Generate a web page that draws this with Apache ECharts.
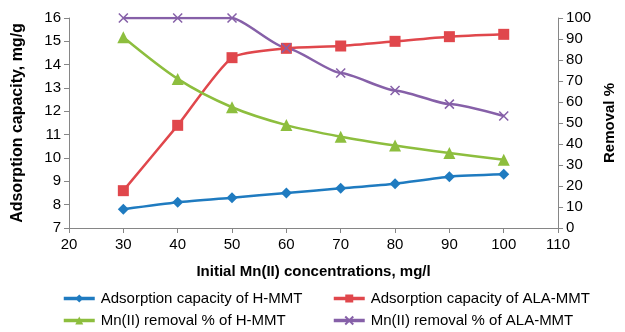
<!DOCTYPE html>
<html><head><meta charset="utf-8">
<script src="https://cdn.jsdelivr.net/npm/echarts@6/dist/echarts.min.js"></script>
<style>html,body{margin:0;padding:0;background:#fff}#c{width:625px;height:332px}</style>
</head><body><div id="c"></div>
<script>
const concentrations = [30, 40, 50, 60, 70, 80, 90, 100];
const capacityHMMT = [7.8, 8.1, 8.3, 8.5, 8.7, 8.9, 9.2, 9.3];
const capacityALAMMT = [8.6, 11.4, 14.3, 14.7, 14.8, 15.0, 15.2, 15.3];
const removalHMMT = [90.8, 71.0, 57.5, 49.0, 43.5, 39.3, 35.7, 32.5];
const removalALAMMT = [100, 100, 100, 85.7, 73.8, 65.5, 59.0, 53.3];
const seriesNames = ['Adsorption capacity of H-MMT', 'Adsorption capacity of ALA-MMT', 'Mn(II) removal % of H-MMT', 'Mn(II) removal % of ALA-MMT'];
const xTitle = 'Initial Mn(II) concentrations, mg/l';
const yLeftTitle = 'Adsorption capacity, mg/g';
const yRightTitle = 'Removal %';

const pairs = arr => concentrations.map((x, i) => [x, arr[i]]);
const font = 'Liberation Sans, Arial, sans-serif';
const axisCommon = {
  axisLine: {show: true, lineStyle: {color: '#868686', width: 1}},
  axisTick: {show: true, length: 5, lineStyle: {color: '#868686'}},
  splitLine: {show: false},
  axisLabel: {color: '#000', fontSize: 15, fontFamily: font}
};
const colors = ['#1F7BC0', '#E0474C', '#8DBE3E', '#8660A8'];
const crossPath = 'path://M0,0L10,10M10,0L0,10';

const legendPos = [[62, 291], [332, 291], [62, 313], [332, 313]];
const legends = seriesNames.map((n, i) => ({
  data: [n], left: legendPos[i][0], top: legendPos[i][1], padding: 0,
  itemWidth: 31, itemHeight: 10, itemGap: 6,
  lineStyle: {width: 3.5},
  textStyle: {fontSize: 15, fontFamily: font, color: '#000', padding: [0, 0, 0, 1]}
}));

const chart = echarts.init(document.getElementById('c'), null, {renderer: 'canvas'});
chart.setOption({
  animation: false,
  grid: {left: 69, right: 62, top: 18, bottom: 104},
  legend: legends,
  xAxis: Object.assign({
    type: 'value', min: 20, max: 110, interval: 10,
    name: xTitle, nameLocation: 'middle', nameGap: 36,
    nameTextStyle: {fontSize: 15, fontWeight: 'bold', fontFamily: font, color: '#000'}
  }, axisCommon, {axisLabel: {color: '#000', fontSize: 15, fontFamily: font, margin: 9}}),
  yAxis: [
    Object.assign({
      type: 'value', min: 7, max: 16, interval: 1, position: 'left',
      name: yLeftTitle, nameLocation: 'middle', nameGap: 43, nameRotate: 90,
      nameTextStyle: {fontSize: 16, fontWeight: 'bold', fontFamily: font, color: '#000'}
    }, axisCommon),
    Object.assign({
      type: 'value', min: 0, max: 100, interval: 10, position: 'right',
      name: yRightTitle, nameLocation: 'middle', nameGap: 38, nameRotate: 90,
      nameTextStyle: {fontSize: 15, fontWeight: 'bold', fontFamily: font, color: '#000'}
    }, axisCommon)
  ],
  series: [
    {name: seriesNames[0], type: 'line', yAxisIndex: 0, data: pairs(capacityHMMT),
      color: colors[0], symbol: 'diamond', symbolSize: 11, smooth: 0.2,
      lineStyle: {width: 2.5}},
    {name: seriesNames[1], type: 'line', yAxisIndex: 0, data: pairs(capacityALAMMT),
      color: colors[1], symbol: 'rect', symbolSize: 11, smooth: 0.2,
      lineStyle: {width: 2.5}},
    {name: seriesNames[2], type: 'line', yAxisIndex: 1, data: pairs(removalHMMT),
      color: colors[2], symbol: 'triangle', symbolSize: 12, smooth: 0.3,
      lineStyle: {width: 2.5}},
    {name: seriesNames[3], type: 'line', yAxisIndex: 1, data: pairs(removalALAMMT),
      color: colors[3], symbol: crossPath, symbolSize: 9, smooth: 0.2, smoothMonotone: 'x',
      itemStyle: {color: colors[3], borderColor: colors[3], borderWidth: 1.5},
      lineStyle: {width: 2.5}}
  ]
});
</script></body></html>
